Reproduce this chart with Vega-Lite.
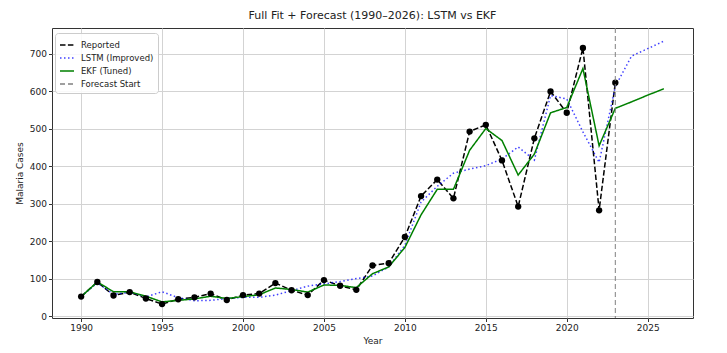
{
  "$schema": "https://vega.github.io/schema/vega-lite/v6.json",
  "width": 641,
  "height": 290,
  "autosize": {"type": "none"},
  "padding": {"left": 52, "top": 28, "right": 34, "bottom": 35},
  "config": {
    "font": "DejaVu Sans",
    "view": {"stroke": "#333333", "strokeWidth": 1},
    "axis": {
      "domain": false,
      "gridColor": "#d3d3d3",
      "gridWidth": 1,
      "tickColor": "#333333",
      "tickSize": 3.5,
      "labelColor": "#222222",
      "labelFontSize": 9,
      "titleFontSize": 9,
      "titleFontWeight": "normal",
      "titleColor": "#222222",
      "labelFont": "DejaVu Sans",
      "titleFont": "DejaVu Sans"
    },
    "legend": {
      "labelFontSize": 8.5,
      "labelFont": "DejaVu Sans",
      "labelColor": "#222222"
    }
  },
  "title": {"text": "Full Fit + Forecast (1990–2026): LSTM vs EKF", "fontSize": 11, "fontWeight": "normal", "font": "DejaVu Sans", "color": "#222222", "offset": 7},
  "datasets": {
    "series": [
      {"year": 1990, "series": "Reported", "value": 52},
      {"year": 1991, "series": "Reported", "value": 91},
      {"year": 1992, "series": "Reported", "value": 55},
      {"year": 1993, "series": "Reported", "value": 64},
      {"year": 1994, "series": "Reported", "value": 47},
      {"year": 1995, "series": "Reported", "value": 32},
      {"year": 1996, "series": "Reported", "value": 45},
      {"year": 1997, "series": "Reported", "value": 50},
      {"year": 1998, "series": "Reported", "value": 60},
      {"year": 1999, "series": "Reported", "value": 43},
      {"year": 2000, "series": "Reported", "value": 56},
      {"year": 2001, "series": "Reported", "value": 60},
      {"year": 2002, "series": "Reported", "value": 88},
      {"year": 2003, "series": "Reported", "value": 69},
      {"year": 2004, "series": "Reported", "value": 56},
      {"year": 2005, "series": "Reported", "value": 96},
      {"year": 2006, "series": "Reported", "value": 81},
      {"year": 2007, "series": "Reported", "value": 70},
      {"year": 2008, "series": "Reported", "value": 135},
      {"year": 2009, "series": "Reported", "value": 141},
      {"year": 2010, "series": "Reported", "value": 211},
      {"year": 2011, "series": "Reported", "value": 320},
      {"year": 2012, "series": "Reported", "value": 364},
      {"year": 2013, "series": "Reported", "value": 314},
      {"year": 2014, "series": "Reported", "value": 492},
      {"year": 2015, "series": "Reported", "value": 510},
      {"year": 2016, "series": "Reported", "value": 415},
      {"year": 2017, "series": "Reported", "value": 292},
      {"year": 2018, "series": "Reported", "value": 474},
      {"year": 2019, "series": "Reported", "value": 599},
      {"year": 2020, "series": "Reported", "value": 542},
      {"year": 2021, "series": "Reported", "value": 715},
      {"year": 2022, "series": "Reported", "value": 282},
      {"year": 2023, "series": "Reported", "value": 622},
      {"year": 1990, "series": "LSTM (Improved)", "value": 52},
      {"year": 1991, "series": "LSTM (Improved)", "value": 89},
      {"year": 1992, "series": "LSTM (Improved)", "value": 58},
      {"year": 1993, "series": "LSTM (Improved)", "value": 64},
      {"year": 1994, "series": "LSTM (Improved)", "value": 51},
      {"year": 1995, "series": "LSTM (Improved)", "value": 65},
      {"year": 1996, "series": "LSTM (Improved)", "value": 49},
      {"year": 1997, "series": "LSTM (Improved)", "value": 41},
      {"year": 1998, "series": "LSTM (Improved)", "value": 42},
      {"year": 1999, "series": "LSTM (Improved)", "value": 47},
      {"year": 2000, "series": "LSTM (Improved)", "value": 50},
      {"year": 2001, "series": "LSTM (Improved)", "value": 50},
      {"year": 2002, "series": "LSTM (Improved)", "value": 56},
      {"year": 2003, "series": "LSTM (Improved)", "value": 68},
      {"year": 2004, "series": "LSTM (Improved)", "value": 80},
      {"year": 2005, "series": "LSTM (Improved)", "value": 86},
      {"year": 2006, "series": "LSTM (Improved)", "value": 92},
      {"year": 2007, "series": "LSTM (Improved)", "value": 100},
      {"year": 2008, "series": "LSTM (Improved)", "value": 107},
      {"year": 2009, "series": "LSTM (Improved)", "value": 131},
      {"year": 2010, "series": "LSTM (Improved)", "value": 189},
      {"year": 2011, "series": "LSTM (Improved)", "value": 304},
      {"year": 2012, "series": "LSTM (Improved)", "value": 346},
      {"year": 2013, "series": "LSTM (Improved)", "value": 381},
      {"year": 2014, "series": "LSTM (Improved)", "value": 392},
      {"year": 2015, "series": "LSTM (Improved)", "value": 401},
      {"year": 2016, "series": "LSTM (Improved)", "value": 419},
      {"year": 2017, "series": "LSTM (Improved)", "value": 451},
      {"year": 2018, "series": "LSTM (Improved)", "value": 416},
      {"year": 2019, "series": "LSTM (Improved)", "value": 588},
      {"year": 2020, "series": "LSTM (Improved)", "value": 579},
      {"year": 2021, "series": "LSTM (Improved)", "value": 491},
      {"year": 2022, "series": "LSTM (Improved)", "value": 410},
      {"year": 2023, "series": "LSTM (Improved)", "value": 612},
      {"year": 2024, "series": "LSTM (Improved)", "value": 693},
      {"year": 2025, "series": "LSTM (Improved)", "value": 713},
      {"year": 2026, "series": "LSTM (Improved)", "value": 733},
      {"year": 1990, "series": "EKF (Tuned)", "value": 52},
      {"year": 1991, "series": "EKF (Tuned)", "value": 91},
      {"year": 1992, "series": "EKF (Tuned)", "value": 65},
      {"year": 1993, "series": "EKF (Tuned)", "value": 65},
      {"year": 1994, "series": "EKF (Tuned)", "value": 53},
      {"year": 1995, "series": "EKF (Tuned)", "value": 38},
      {"year": 1996, "series": "EKF (Tuned)", "value": 42},
      {"year": 1997, "series": "EKF (Tuned)", "value": 46},
      {"year": 1998, "series": "EKF (Tuned)", "value": 53},
      {"year": 1999, "series": "EKF (Tuned)", "value": 47},
      {"year": 2000, "series": "EKF (Tuned)", "value": 52},
      {"year": 2001, "series": "EKF (Tuned)", "value": 57},
      {"year": 2002, "series": "EKF (Tuned)", "value": 75},
      {"year": 2003, "series": "EKF (Tuned)", "value": 71},
      {"year": 2004, "series": "EKF (Tuned)", "value": 64},
      {"year": 2005, "series": "EKF (Tuned)", "value": 83},
      {"year": 2006, "series": "EKF (Tuned)", "value": 82},
      {"year": 2007, "series": "EKF (Tuned)", "value": 76},
      {"year": 2008, "series": "EKF (Tuned)", "value": 113},
      {"year": 2009, "series": "EKF (Tuned)", "value": 131},
      {"year": 2010, "series": "EKF (Tuned)", "value": 183},
      {"year": 2011, "series": "EKF (Tuned)", "value": 270},
      {"year": 2012, "series": "EKF (Tuned)", "value": 338},
      {"year": 2013, "series": "EKF (Tuned)", "value": 338},
      {"year": 2014, "series": "EKF (Tuned)", "value": 442},
      {"year": 2015, "series": "EKF (Tuned)", "value": 500},
      {"year": 2016, "series": "EKF (Tuned)", "value": 468},
      {"year": 2017, "series": "EKF (Tuned)", "value": 376},
      {"year": 2018, "series": "EKF (Tuned)", "value": 432},
      {"year": 2019, "series": "EKF (Tuned)", "value": 542},
      {"year": 2020, "series": "EKF (Tuned)", "value": 556},
      {"year": 2021, "series": "EKF (Tuned)", "value": 660},
      {"year": 2022, "series": "EKF (Tuned)", "value": 454},
      {"year": 2023, "series": "EKF (Tuned)", "value": 554},
      {"year": 2024, "series": "EKF (Tuned)", "value": 571},
      {"year": 2025, "series": "EKF (Tuned)", "value": 589},
      {"year": 2026, "series": "EKF (Tuned)", "value": 606}
    ],
    "forecast": [
      {"year": 2023, "series": "Forecast Start"}
    ]
  },
  "layer": [
    {
      "data": {"name": "series"},
      "mark": {"type": "line", "strokeWidth": 1.5},
      "encoding": {
        "x": {
          "field": "year", "type": "quantitative",
          "scale": {"domain": [1988.2, 2027.8], "nice": false, "zero": false},
          "axis": {"title": "Year", "values": [1990, 1995, 2000, 2005, 2010, 2015, 2020, 2025], "format": "d", "titlePadding": 4}
        },
        "y": {
          "field": "value", "type": "quantitative",
          "scale": {"domain": [-5, 768], "nice": false, "zero": false},
          "axis": {"title": "Malaria Cases", "values": [0, 100, 200, 300, 400, 500, 600, 700], "titlePadding": 5}
        },
        "color": {
          "field": "series", "type": "nominal",
          "scale": {
            "domain": ["Reported", "LSTM (Improved)", "EKF (Tuned)", "Forecast Start"],
            "range": ["#000000", "rgba(0,0,255,0.75)", "#008000", "#808080"]
          },
          "legend": {
            "title": null, "orient": "none", "legendX": 3, "legendY": 5,
            "symbolType": "stroke", "symbolSize": 196, "symbolStrokeWidth": 1.5,
            "fillColor": "rgba(255,255,255,0.85)", "strokeColor": "#cccccc",
            "padding": 4, "rowPadding": 0, "cornerRadius": 3, "labelOffset": 6
          }
        },
        "strokeDash": {
          "field": "series", "type": "nominal",
          "scale": {
            "domain": ["Reported", "LSTM (Improved)", "EKF (Tuned)", "Forecast Start"],
            "range": [[5.5, 2.4], [1.5, 2.5], [1, 0], [5, 3]]
          },
          "legend": {
            "title": null, "orient": "none", "legendX": 3, "legendY": 5
          }
        },
        "order": {"field": "year", "type": "quantitative"}
      }
    },
    {
      "data": {"name": "series"},
      "transform": [{"filter": "datum.series === 'Reported'"}],
      "mark": {"type": "point", "filled": true, "color": "#000000", "size": 40, "opacity": 1},
      "encoding": {
        "x": {"field": "year", "type": "quantitative"},
        "y": {"field": "value", "type": "quantitative"}
      }
    },
    {
      "data": {"name": "forecast"},
      "mark": {"type": "rule", "strokeWidth": 1},
      "encoding": {
        "x": {"field": "year", "type": "quantitative"},
        "color": {"field": "series", "type": "nominal"},
        "strokeDash": {"field": "series", "type": "nominal"}
      }
    }
  ]
}
